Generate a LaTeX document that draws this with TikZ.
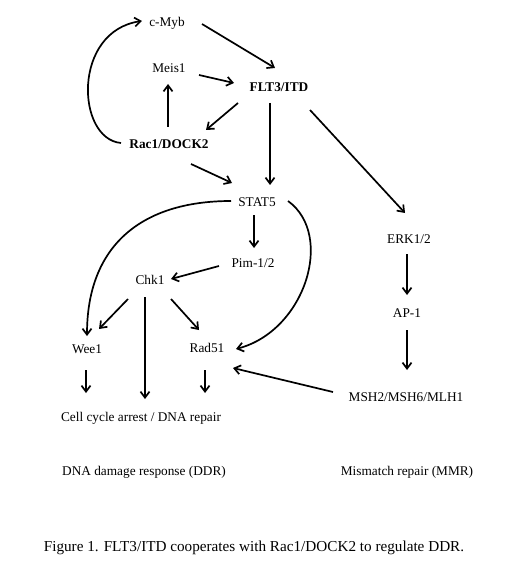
\documentclass[tikz,border=0pt]{standalone}
\usepackage{fontspec}
\setmainfont{Liberation Serif}
\usetikzlibrary{arrows.meta}

\begin{document}
\begin{tikzpicture}[x=1pt,y=-1pt,
    >={Straight Barb[length=6pt,width=9pt]},
    arr/.style={line width=1.7pt,->},
    lbl/.style={font=\fontsize{13.3}{16}\selectfont,inner sep=0pt},
    bld/.style={font=\fontsize{13.3}{16}\selectfont\bfseries,inner sep=0pt}]
        \useasboundingbox (0,0) rectangle (520,569);

        % genes and proteins
        \node[lbl] (cmyb) at (167,23) {c-Myb};
        \node[lbl] (meis) at (169,68) {Meis1};
        \node[bld] (flt) at (279,87) {FLT3/ITD};
        \node[bld] (rac) at (169,144) {Rac1/DOCK2};
        \node[lbl] (stat) at (257,202) {STAT5};
        \node[lbl] (erk) at (409,239) {ERK1/2};
        \node[lbl] (pim) at (253,263) {Pim-1/2};
        \node[lbl] (chk) at (150,280) {Chk1};
        \node[lbl] (wee) at (87,349) {Wee1};
        \node[lbl] (rad) at (207,348) {Rad51};
        \node[lbl] (ap) at (407,313) {AP-1};
        \node[lbl] (msh) at (406,397) {MSH2/MSH6/MLH1};
        \node[lbl] (arrest) at (141,418) {Cell cycle arrest / DNA repair};

        \node[lbl] (ddr) at (144,472) {DNA damage response (DDR)};
        \node[lbl] (mmr) at (407,472) {Mismatch repair (MMR)};
        \node[font=\fontsize{15.2}{18}\selectfont,inner sep=0pt] (caption) at (254,548)
            {Figure 1. FLT3/ITD cooperates with Rac1/DOCK2 to regulate DDR.};

        % upper loop
        \draw[arr] ([shift={(-48,-1)}]rac.center) .. controls +(-45,-4) and +(-70,10) .. ([shift={(-25,-2)}]cmyb.center);
        \draw[arr] ([shift={(35,1)}]cmyb.center) -- ([shift={(-4,-19)}]flt.center);
        \draw[arr] ([shift={(30,7)}]meis.center) -- ([shift={(-45,-4)}]flt.center);
        \draw[arr] ([shift={(-1,-17)}]rac.center) -- ([shift={(-1,16)}]meis.center);
        \draw[arr] ([shift={(-41,16)}]flt.center) -- ([shift={(37,-14)}]rac.center);
        \draw[arr] ([shift={(-9,16)}]flt.center) -- ([shift={(13,-17)}]stat.center);
        \draw[arr] ([shift={(31,23)}]flt.center) -- ([shift={(-4,-26)}]erk.center);
        \draw[arr] ([shift={(22,20)}]rac.center) -- ([shift={(-25,-19)}]stat.center);

        % DDR branch
        \draw[arr] ([shift={(-26,-1)}]stat.center) .. controls +(-90,0) and +(0,-90) .. ([shift={(0,-13)}]wee.center);
        \draw[arr] ([shift={(31,-1)}]stat.center) .. controls +(47,34) and +(69,-18) .. ([shift={(29,1)}]rad.center);
        \draw[arr] ([shift={(-3,13)}]stat.center) -- ([shift={(1,-15)}]pim.center);
        \draw[arr] ([shift={(-34,3)}]pim.center) -- ([shift={(21,-1)}]chk.center);
        \draw[arr] ([shift={(-22,19)}]chk.center) -- ([shift={(12,-20)}]wee.center);
        \draw[arr] ([shift={(21,19)}]chk.center) -- ([shift={(-8,-18)}]rad.center);
        \draw[arr] ([shift={(-5,17)}]chk.center) -- ([shift={(4,-19)}]arrest.center);
        \draw[arr] ([shift={(-1,21)}]wee.center) -- ([shift={(-55,-25)}]arrest.center);
        \draw[arr] ([shift={(-2,22)}]rad.center) -- ([shift={(64,-25)}]arrest.center);

        % MMR branch
        \draw[arr] ([shift={(-2,15)}]erk.center) -- ([shift={(0,-18)}]ap.center);
        \draw[arr] ([shift={(0,17)}]ap.center) -- ([shift={(1,-27)}]msh.center);
        \draw[arr] ([shift={(-73,-5)}]msh.center) -- ([shift={(26,20)}]rad.center);

    \end{tikzpicture}
\end{document}
